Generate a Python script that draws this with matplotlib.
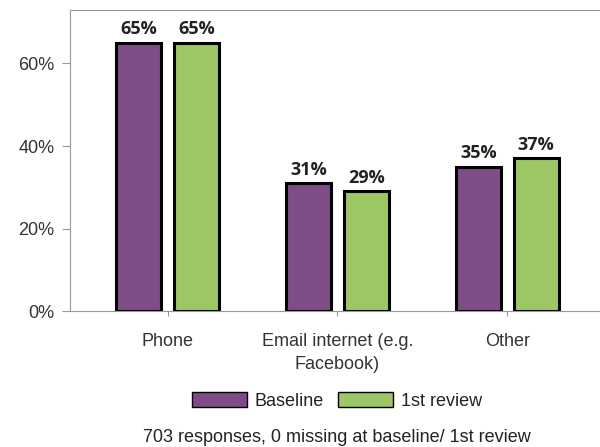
import matplotlib.pyplot as plt
import matplotlib.patches as mpatches
import numpy as np

categories = ['Phone', 'Email internet (e.g.\nFacebook)', 'Other']
baseline = [65, 31, 35]
review = [65, 29, 37]
series_names = ['Baseline', '1st review']
colors = ['#7e4c87', '#9cc764']

plt.rcParams['font.family'] = ['Liberation Sans', 'DejaVu Sans']

fig = plt.figure(figsize=(6, 4.47), dpi=100)
ax = fig.add_axes([0.1167, 0.304, 0.8833, 0.674])

x = np.arange(len(categories))
off = 0.17
w = 0.265
for vals, dx, c in [(baseline, -off, colors[0]), (review, off, colors[1])]:
    bars = ax.bar(x + dx, vals, width=w, color=c, edgecolor='black', linewidth=2.2)
    for b, v in zip(bars, vals):
        ax.text(b.get_x() + b.get_width() / 2, v + 1.1, f'{v}%', ha='center', va='bottom',
                fontsize=13, fontweight='bold',
                family=['Open Sans', 'DejaVu Sans'], color='#222222')

ax.set_xlim(-0.576, 2.547)
ax.set_ylim(0, 73)
ax.set_yticks([0, 20, 40, 60])
ax.set_yticklabels(['0%', '20%', '40%', '60%'])
ax.set_xticks(x)
ax.set_xticklabels(categories, linespacing=1.45)
ax.tick_params(axis='y', length=6, color='#999999', labelsize=13, labelcolor='#333333', pad=5)
ax.tick_params(axis='x', length=3.6, color='#999999', labelsize=13, labelcolor='#333333', pad=12.5)
for s in ['left', 'top', 'bottom']:
    ax.spines[s].set_color('#999999')
ax.spines['right'].set_visible(False)

handles = [mpatches.Patch(facecolor=colors[i], edgecolor='black', linewidth=1, label=series_names[i])
           for i in range(2)]
fig.legend(handles=handles, loc='center', bbox_to_anchor=(0.562, 0.103), ncol=2, frameon=False,
           fontsize=13, handlelength=3.0, handleheight=0.85, handletextpad=0.45, columnspacing=0.8,
           labelcolor='#222222')

fig.text(0.562, 0.022, '703 responses, 0 missing at baseline/ 1st review', ha='center', va='center',
         fontsize=13, color='#222222')

fig.savefig('out.png', dpi=100)
